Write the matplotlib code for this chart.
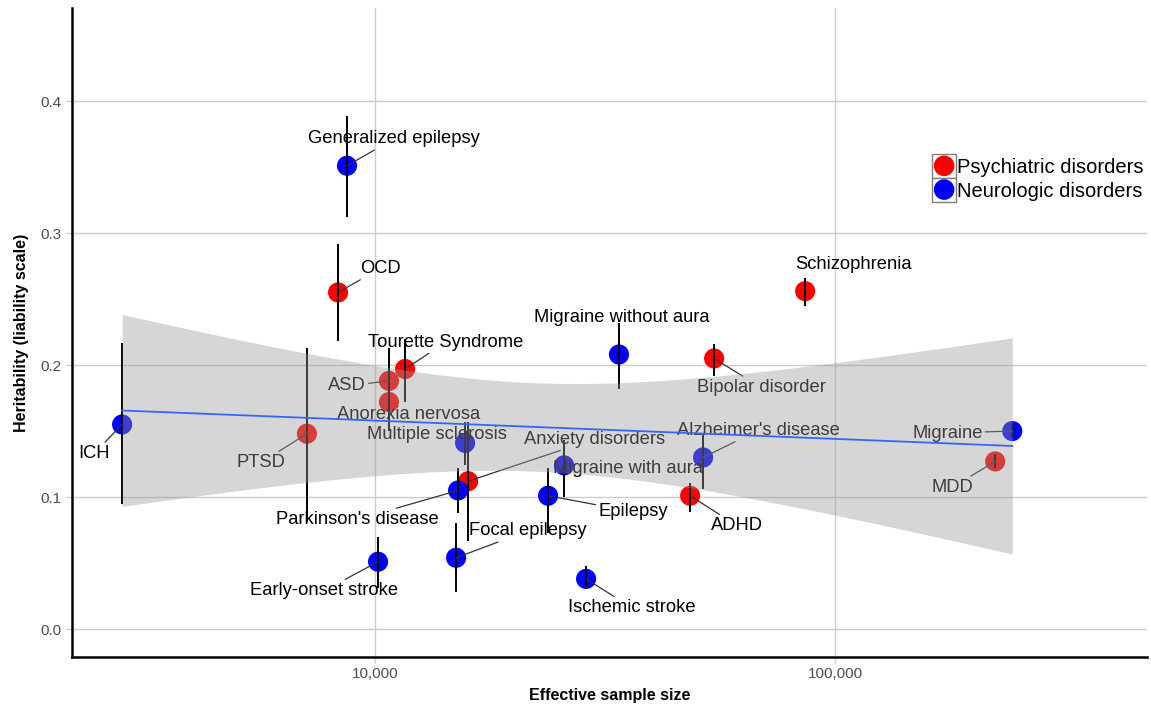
import numpy as np
import matplotlib
matplotlib.use("Agg")
import matplotlib.pyplot as plt
from matplotlib.legend_handler import HandlerBase
from matplotlib.patches import Rectangle, Circle
from matplotlib.ticker import FixedLocator, FuncFormatter

plt.rcParams['font.family'] = ['Liberation Sans', 'DejaVu Sans']

# data
names = ["ICH", "PTSD", "OCD", "Generalized epilepsy", "Early-onset stroke",
         "ASD", "Anorexia nervosa", "Tourette Syndrome", "Parkinson's disease",
         "Focal epilepsy", "Multiple sclerosis", "Anxiety disorders", "Epilepsy",
         "Migraine with aura", "Ischemic stroke", "Migraine without aura", "ADHD",
         "Alzheimer's disease", "Bipolar disorder", "Schizophrenia", "MDD", "Migraine"]
n_eff = [2820, 7110, 8310, 8690, 10150,
         10720, 10720, 11620, 15150,
         15000, 15690, 15930, 23770,
         25750, 28750, 33890, 48390,
         51620, 54560, 86040, 222700, 242600]
h2 = [0.155, 0.148, 0.255, 0.351, 0.051,
      0.188, 0.172, 0.197, 0.105,
      0.054, 0.141, 0.112, 0.101,
      0.124, 0.038, 0.208, 0.101,
      0.130, 0.205, 0.256, 0.127, 0.150]
h2_lo = [0.095, 0.081, 0.218, 0.312, 0.031,
         0.163, 0.150, 0.172, 0.088,
         0.028, 0.124, 0.067, 0.073,
         0.100, 0.030, 0.182, 0.089,
         0.106, 0.192, 0.245, 0.122, 0.145]
h2_hi = [0.217, 0.213, 0.292, 0.389, 0.070,
         0.213, 0.195, 0.220, 0.122,
         0.080, 0.157, 0.157, 0.122,
         0.143, 0.048, 0.232, 0.111,
         0.148, 0.216, 0.266, 0.133, 0.155]
group = ["N", "P", "P", "N", "N",
         "P", "P", "P", "N",
         "N", "N", "P", "N",
         "N", "N", "N", "P",
         "N", "P", "P", "P", "N"]

# label placement (pixel offsets from the point, draw leader line?)
label_pos = {
    "ICH": (-28, -29, True), "PTSD": (-46, -29, True), "OCD": (42, 24, True),
    "Generalized epilepsy": (47, 27, True), "Early-onset stroke": (-54, -29, True),
    "ASD": (-42, -5, True), "Anorexia nervosa": (20, -12, False),
    "Tourette Syndrome": (41, 27, True), "Parkinson's disease": (-101, -29, True),
    "Focal epilepsy": (72, 27, True), "Multiple sclerosis": (-28, 8, False),
    "Anxiety disorders": (126, 42, True), "Epilepsy": (85, -16, True),
    "Migraine with aura": (64, -3, False), "Ischemic stroke": (46, -29, True),
    "Migraine without aura": (3, 37, False), "ADHD": (47, -30, True),
    "Alzheimer's disease": (55, 27, True), "Bipolar disorder": (47, -29, True),
    "Schizophrenia": (48, 27, False), "MDD": (-43, -26, True), "Migraine": (-65, -2, True),
}

colors = {"P": "#FF0000", "N": "#0000FF"}

x = np.array(n_eff, dtype=float)
y = np.array(h2)

fig = plt.figure(figsize=(11.51, 7.10), dpi=100)
ax = fig.add_axes([0.0626, 0.0746, 0.9339, 0.9141])

ax.set_xscale('log')
ax.set_xlim(2195, 476000)
ax.set_ylim(-0.0212, 0.4705)

# points
for g in ["P", "N"]:
    idx = [i for i in range(len(names)) if group[i] == g]
    ax.scatter(x[idx], y[idx], s=210, color=colors[g], edgecolors='none', zorder=2)

# error bars
ax.vlines(x, h2_lo, h2_hi, color='black', lw=1.4, zorder=3)

# labels with leader lines
for i, nm in enumerate(names):
    dx, dy, seg = label_pos[nm]
    ap = dict(arrowstyle='-', color='#333333', lw=0.9, shrinkA=0, shrinkB=0) if seg else None
    ax.annotate(nm, (x[i], y[i]), xytext=(dx, dy), textcoords='offset pixels',
                ha='center', va='center', fontsize=13.2, color='black',
                arrowprops=ap, zorder=3)

# linear fit on log10(n) with 95% confidence band
lx = np.log10(x)
n = len(lx)
slope, icpt = np.polyfit(lx, y, 1)
resid = y - (icpt + slope * lx)
s = np.sqrt(np.sum(resid ** 2) / (n - 2))
sxx = np.sum((lx - lx.mean()) ** 2)
t975 = 2.086  # t quantile, df = 20
gx = np.linspace(lx.min(), lx.max(), 200)
gy = icpt + slope * gx
se = s * np.sqrt(1.0 / n + (gx - lx.mean()) ** 2 / sxx)
ax.fill_between(10 ** gx, gy - t975 * se, gy + t975 * se, color='#999999',
                alpha=0.4, lw=0, zorder=4)
ax.plot(10 ** gx, gy, color='#3366FF', lw=1.3, zorder=5)

# axes styling
ax.xaxis.set_major_locator(FixedLocator([10000, 100000]))
ax.xaxis.set_minor_locator(FixedLocator([]))
ax.xaxis.set_major_formatter(FuncFormatter(lambda v, p: f"{int(v):,}"))
ax.set_yticks([0.0, 0.1, 0.2, 0.3, 0.4])
ax.yaxis.set_major_formatter(FuncFormatter(lambda v, p: f"{v:.1f}"))
ax.grid(True, color='#CCCCCC', lw=1.0)
ax.set_axisbelow(True)
for sp in ['top', 'right']:
    ax.spines[sp].set_visible(False)
for sp in ['left', 'bottom']:
    ax.spines[sp].set_linewidth(1.8)
    ax.spines[sp].set_color('black')
ax.tick_params(axis='both', colors='#CCCCCC', length=4, width=1.0, labelsize=11,
               labelcolor='#4D4D4D')
ax.tick_params(axis='x', pad=3)
ax.set_xlabel("Effective sample size", fontsize=11.5, fontweight='bold', labelpad=5)
ax.set_ylabel("Heritability (liability scale)", fontsize=11.5, fontweight='bold', labelpad=8)


class BoxedDot(HandlerBase):
    # legend key: coloured dot inside a grey square (units are points)
    def create_artists(self, legend, orig, xd, yd, w, h, fs, trans):
        size = 17.3
        cx, cy = xd + w / 2, yd + h / 2 - 2.5
        box = Rectangle((cx - size / 2, cy - size / 2), size, size, facecolor='white',
                        edgecolor='#7F7F7F', lw=1.0, transform=trans)
        dot = Circle((cx, cy), size * 0.4, color=orig.get_facecolor(), transform=trans)
        return [box, dot]


handles = [Rectangle((0, 0), 1, 1, color=colors["P"]), Rectangle((0, 0), 1, 1, color=colors["N"])]
ax.legend(handles, ["Psychiatric disorders", "Neurologic disorders"],
          handler_map={Rectangle: BoxedDot()}, loc='upper left',
          bbox_to_anchor=(0.7935, 0.782), frameon=False, fontsize=14.5,
          handlelength=1.1, handleheight=1.0, handletextpad=0.1, labelspacing=0.19,
          borderaxespad=0)

fig.savefig("out.png", dpi=100)
